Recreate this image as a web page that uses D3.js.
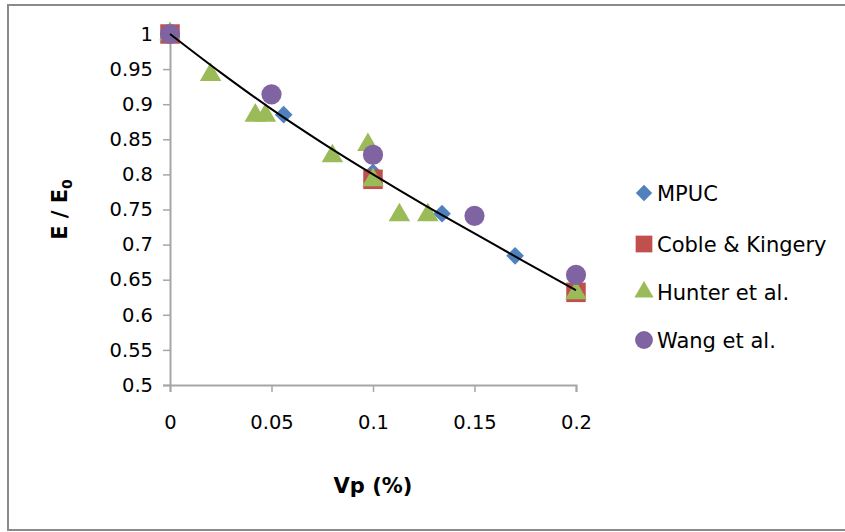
<!DOCTYPE html>
<html>
<head>
<meta charset="utf-8">
<script src="https://cdn.jsdelivr.net/npm/d3@7"></script>
<style>
  body { margin: 0; background: #fff; }
  svg text { font-family: "DejaVu Sans", sans-serif; fill: #000; }
</style>
</head>
<body>
<svg id="chart"></svg>
<script>
// Series
const mpucX = [0, 0.056, 0.1, 0.134, 0.17, 0.2];
const mpucY = [1, 0.885, 0.803, 0.744, 0.684, 0.635];

const cobleX = [0, 0.1, 0.2];
const cobleY = [1, 0.793, 0.632];

const hunterX = [0, 0.02, 0.042, 0.047, 0.08, 0.0975, 0.1, 0.113, 0.127, 0.2];
const hunterY = [1, 0.942, 0.884, 0.884, 0.826, 0.842, 0.792, 0.742, 0.742, 0.631];

const wangX = [0, 0.05, 0.1, 0.15, 0.2];
const wangY = [1, 0.914, 0.828, 0.741, 0.657];

// trend line points
const trendX = [0, 0.025, 0.05, 0.075, 0.1, 0.125, 0.15, 0.175, 0.2];
const trendY = [1, 0.945, 0.893, 0.845, 0.800, 0.757, 0.716, 0.675, 0.635];

const xTicks = [0, 0.05, 0.1, 0.15, 0.2];
const yTicks = [0.5, 0.55, 0.6, 0.65, 0.7, 0.75, 0.8, 0.85, 0.9, 0.95, 1];

const seriesNames = ['MPUC', 'Coble & Kingery', 'Hunter et al.', 'Wang et al.'];
const seriesColors = ['#4F81BD', '#C0504D', '#9BBB59', '#8064A2'];

const W = 845, H = 532;
const plot = { left: 170, right: 576, top: 34, bottom: 385 };

const svg = d3.select('#chart').attr('width', W).attr('height', H);

// outer frame
svg.append('rect')
  .attr('x', 8).attr('y', 5)
  .attr('width', 850).attr('height', 525)
  .attr('fill', 'none')
  .attr('stroke', '#8a8a8a')
  .attr('stroke-width', 2);

const x = d3.scaleLinear().domain([0, 0.2]).range([plot.left, plot.right]);
const y = d3.scaleLinear().domain([0.5, 1]).range([plot.bottom, plot.top]);

// y axis
const yAxis = svg.append('g')
  .attr('transform', `translate(${plot.left},0)`)
  .call(d3.axisLeft(y).tickValues(yTicks).tickSize(7).tickPadding(10)
    .tickFormat(d => String(+d.toFixed(2))));
yAxis.select('.domain').attr('stroke', '#a6a6a6').attr('stroke-width', 2);
yAxis.selectAll('.tick line').attr('stroke', '#a6a6a6').attr('stroke-width', 1.5);
yAxis.selectAll('.tick text').attr('font-size', 19.5).attr('font-family', '"DejaVu Sans", sans-serif');

// x axis
const xAxis = svg.append('g')
  .attr('transform', `translate(0,${plot.bottom})`)
  .call(d3.axisBottom(x).tickValues(xTicks).tickSize(7).tickPadding(23)
    .tickFormat(d => String(+d.toFixed(2))));
xAxis.select('.domain').attr('stroke', '#a6a6a6').attr('stroke-width', 2);
xAxis.selectAll('.tick line').attr('stroke', '#a6a6a6').attr('stroke-width', 1.5);
xAxis.selectAll('.tick text').attr('font-size', 19.5).attr('font-family', '"DejaVu Sans", sans-serif');

// axis titles
svg.append('text')
  .attr('x', (plot.left + plot.right) / 2)
  .attr('y', 493)
  .attr('text-anchor', 'middle')
  .attr('font-weight', 'bold')
  .attr('font-size', 21)
  .text('Vp (%)');

const yTitle = svg.append('text')
  .attr('transform', `translate(67,${(plot.top + plot.bottom) / 2}) rotate(-90)`)
  .attr('text-anchor', 'middle')
  .attr('font-weight', 'bold')
  .attr('font-size', 21);
yTitle.append('tspan').text('E / E');
yTitle.append('tspan').attr('font-size', 14).attr('dy', 5).text('0');

// marker symbols
const symbols = [
  d3.symbol().type(d3.symbolDiamond2).size(200),
  d3.symbol().type(d3.symbolSquare).size(380),
  d3.symbol().type(d3.symbolTriangle).size(200),
  d3.symbol().type(d3.symbolCircle).size(320)
];

const seriesData = [
  mpucX.map((v, i) => [v, mpucY[i]]),
  cobleX.map((v, i) => [v, cobleY[i]]),
  hunterX.map((v, i) => [v, hunterY[i]]),
  wangX.map((v, i) => [v, wangY[i]])
];

seriesData.forEach((pts, s) => {
  svg.append('g').selectAll('path')
    .data(pts)
    .join('path')
    .attr('d', symbols[s])
    .attr('transform', d => `translate(${x(d[0])},${y(d[1])})`)
    .attr('fill', seriesColors[s]);
});

// trend line
const trend = trendX.map((v, i) => [v, trendY[i]]);
svg.append('path')
  .datum(trend)
  .attr('fill', 'none')
  .attr('stroke', '#000')
  .attr('stroke-width', 2)
  .attr('d', d3.line().x(d => x(d[0])).y(d => y(d[1])).curve(d3.curveMonotoneX));

// legend
const legendY = [193, 244, 292, 340];
const legend = svg.append('g');
seriesNames.forEach((name, i) => {
  legend.append('path')
    .attr('d', d3.symbol().type([d3.symbolDiamond2, d3.symbolSquare, d3.symbolTriangle, d3.symbolCircle][i])
      .size([170, 280, 160, 250][i]))
    .attr('transform', `translate(644,${legendY[i]})`)
    .attr('fill', seriesColors[i]);
  legend.append('text')
    .attr('x', 657)
    .attr('y', legendY[i])
    .attr('dy', '0.36em')
    .attr('font-size', 21)
    .text(name);
});
</script>
</body>
</html>
